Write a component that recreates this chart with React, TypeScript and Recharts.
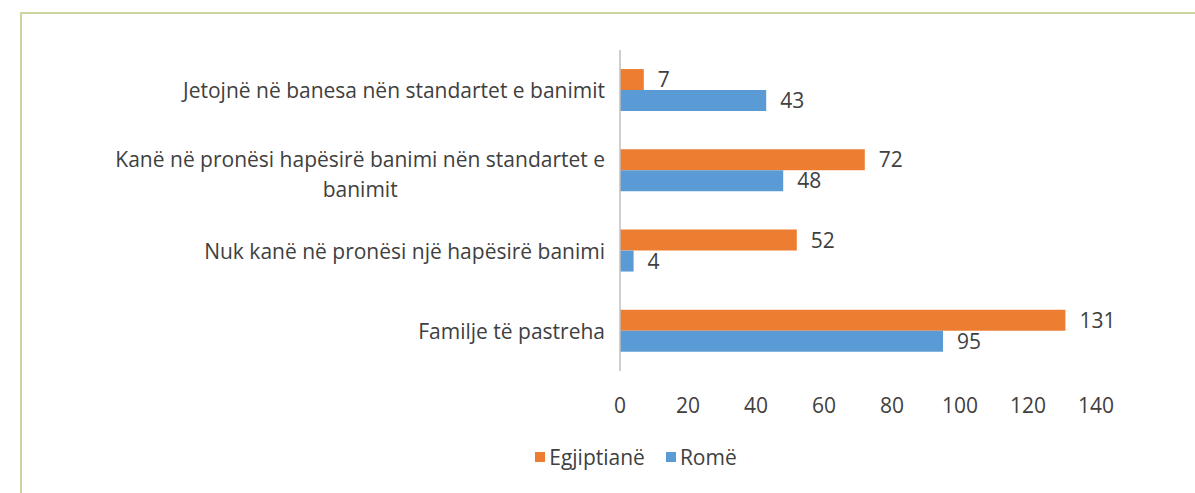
import React from 'react';
import { BarChart, Bar, XAxis, YAxis, LabelList, Legend } from 'recharts';

const categories = [
  'Jetojnë në banesa nën standartet e banimit',
  'Kanë në pronësi hapësirë banimi nën standartet e banimit',
  'Nuk kanë në pronësi një hapësirë banimi',
  'Familje të pastreha',
];
const egjiptiane = [7, 72, 52, 131];
const rome = [43, 48, 4, 95];
const xTicks = [0, 20, 40, 60, 80, 100, 120, 140];
const seriesNames = ['Egjiptianë', 'Romë'];

const data = categories.map((c, i) => ({ name: c, egj: egjiptiane[i], rom: rome[i] }));

const FONT = '"Open Sans", sans-serif';
const FS = 21;
const TEXT = '#404040';
const ORANGE = '#ED7D31';
const BLUE = '#5B9BD5';

let ctx: CanvasRenderingContext2D | null = null;
function measure(t: string): number {
  if (!ctx) {
    const c = document.createElement('canvas');
    ctx = c.getContext('2d');
  }
  if (!ctx) return t.length * FS * 0.52;
  ctx.font = `${FS}px "Open Sans"`;
  return ctx.measureText(t).width;
}

function wrap(text: string, maxW: number): string[] {
  const words = text.split(' ');
  const lines: string[] = [];
  let cur = '';
  for (const w of words) {
    const test = cur ? cur + ' ' + w : w;
    if (cur && measure(test) > maxW) {
      lines.push(cur);
      cur = w;
    } else cur = test;
  }
  if (cur) lines.push(cur);
  return lines;
}

const YTick = (props: any) => {
  const { x, y, payload } = props;
  const lines = wrap(payload.value, 530);
  const right = x - 7;
  const lh = 30;
  if (lines.length === 1) {
    return (
      <text x={right} y={y} dy={8} textAnchor="end" fill={TEXT} fontSize={FS} fontFamily={FONT}>
        {lines[0]}
      </text>
    );
  }
  const w0 = measure(lines[0]);
  const cx = right - w0 / 2;
  const start = y - ((lines.length - 1) * lh) / 2 + 12;
  return (
    <text textAnchor="middle" fill={TEXT} fontSize={FS} fontFamily={FONT}>
      {lines.map((l, i) => (
        <tspan key={i} x={cx} y={start + i * lh}>
          {l}
        </tspan>
      ))}
    </text>
  );
};

const XTick = (props: any) => {
  const { x, y, payload } = props;
  return (
    <text x={x} y={y} dy={34} textAnchor="middle" fill={TEXT} fontSize={FS} fontFamily={FONT}>
      {payload.value}
    </text>
  );
};

const LegendContent = () => (
  <div style={{ display: 'flex', justifyContent: 'center', alignItems: 'center', fontFamily: FONT, fontSize: FS, color: TEXT }}>
    {[ORANGE, BLUE].map((c, i) => (
      <div key={i} style={{ display: 'flex', alignItems: 'center', marginRight: i === 0 ? 21 : 0 }}>
        <span style={{ display: 'inline-block', width: 10, height: 10, background: c, marginRight: 4 }} />
        <span>{seriesNames[i]}</span>
      </div>
    ))}
  </div>
);

export default function App() {
  return (
    <div style={{ position: 'absolute', left: 0, top: 0, width: 1195, height: 493, overflow: 'hidden', background: '#fff' }}>
      <div
        style={{
          position: 'absolute',
          left: 20,
          top: 12,
          width: 1400,
          height: 700,
          borderTop: '2px solid #cfd3a0',
          borderLeft: '2px solid #cfd3a0',
        }}
      />
      <div style={{ position: 'absolute', left: 0, top: 0 }}>
        <BarChart
          width={1195}
          height={493}
          data={data}
          layout="vertical"
          margin={{ top: 50, right: 99, bottom: 82, left: 20 }}
          barCategoryGap="23.75%"
          barGap={0}
        >
          <XAxis
            type="number"
            domain={[0, 140]}
            ticks={xTicks}
            axisLine={false}
            tickLine={false}
            height={40}
            tick={<XTick />}
            interval={0}
          />
          <YAxis
            type="category"
            dataKey="name"
            width={600}
            axisLine={{ stroke: '#bfbfbf', strokeWidth: 1.5 }}
            tickLine={false}
            tick={<YTick />}
            interval={0}
          />
          <Legend
            layout="horizontal"
            verticalAlign="middle"
            align="center"
            content={<LegendContent />}
            wrapperStyle={{ top: 443, left: 0, width: 1272 }}
          />
          <Bar dataKey="egj" name={seriesNames[0]} fill={ORANGE} isAnimationActive={false}>
            <LabelList dataKey="egj" position="right" offset={14} fill={TEXT} fontSize={FS} fontFamily={FONT} />
          </Bar>
          <Bar dataKey="rom" name={seriesNames[1]} fill={BLUE} isAnimationActive={false}>
            <LabelList dataKey="rom" position="right" offset={14} fill={TEXT} fontSize={FS} fontFamily={FONT} />
          </Bar>
        </BarChart>
      </div>
    </div>
  );
}
